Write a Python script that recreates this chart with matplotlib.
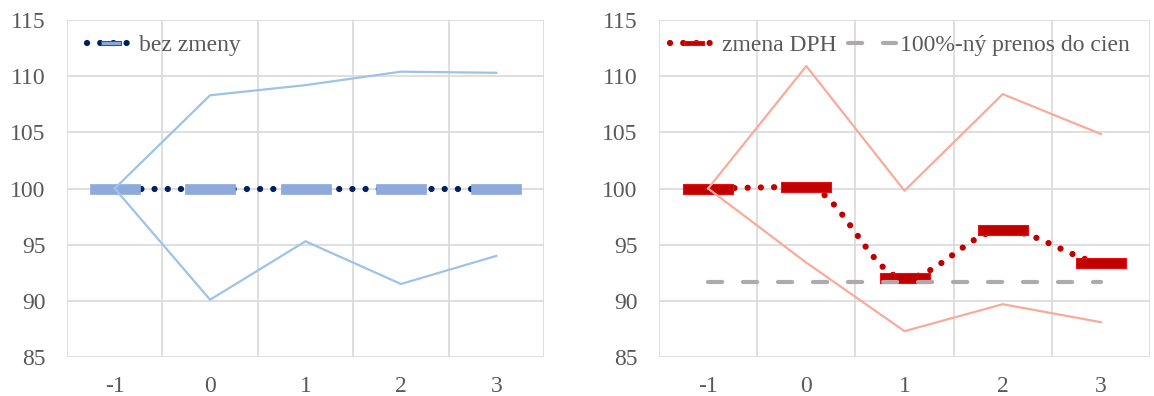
import numpy as np
import matplotlib
matplotlib.use("Agg")
import matplotlib.pyplot as plt
from matplotlib.path import Path
from matplotlib.lines import Line2D
from matplotlib.ticker import FixedLocator

# ---- data ----
periods = [-1, 0, 1, 2, 3]
base_center = [100, 100, 100, 100, 100]
base_upper = [100, 108.3, 109.2, 110.4, 110.3]
base_lower = [100, 90.1, 95.3, 91.5, 94.0]

vat_center = [100, 100.15, 92.0, 96.3, 93.35]
vat_upper = [100, 110.9, 99.8, 108.4, 104.85]
vat_lower = [100, 93.4, 87.3, 89.7, 88.1]
full_passthrough = [91.7, 91.7]
full_pt_x = [-1, 3]

yticks = [85, 90, 95, 100, 105, 110, 115]
label_base = "bez zmeny"
label_vat = "zmena DPH"
label_full = "100%-ný prenos do cien"

FONT = "Liberation Serif"
TXT = "#595959"
GRID = "#d9d9d9"
FS = 17

plt.rcParams["font.family"] = [FONT, "DejaVu Serif", "DejaVu Sans"]


def smooth(x, y, n=40):
    """Bezier smoothing through the points (zero tangent at local extremes)."""
    x = np.asarray(x, float)
    y = np.asarray(y, float)
    m = len(x)
    tang = np.zeros(m)
    for i in range(m):
        if i == 0:
            tang[i] = (y[1] - y[0]) / 2
        elif i == m - 1:
            tang[i] = (y[-1] - y[-2]) / 2
        else:
            d1 = y[i] - y[i - 1]
            d2 = y[i + 1] - y[i]
            tang[i] = 0.0 if d1 * d2 <= 0 else (y[i + 1] - y[i - 1]) / 2
    xs, ys = [], []
    t = np.linspace(0, 1, n)
    for i in range(m - 1):
        h = x[i + 1] - x[i]
        p0 = np.array([x[i], y[i]])
        p3 = np.array([x[i + 1], y[i + 1]])
        c1 = p0 + np.array([h / 3, tang[i] / 3])
        c2 = p3 - np.array([h / 3, tang[i + 1] / 3])
        b = ((1 - t) ** 3)[:, None] * p0 + (3 * (1 - t) ** 2 * t)[:, None] * c1 + \
            (3 * (1 - t) * t ** 2)[:, None] * c2 + (t ** 3)[:, None] * p3
        xs.extend(b[:, 0])
        ys.extend(b[:, 1])
    return np.array(xs), np.array(ys)


rect = Path([(-5, -1), (5, -1), (5, 1), (-5, 1), (-5, -1)],
            [Path.MOVETO, Path.LINETO, Path.LINETO, Path.LINETO, Path.CLOSEPOLY])

fig = plt.figure(figsize=(11.54, 3.96), dpi=100)
ax1 = fig.add_axes([67 / 1154, 1 - 357 / 396, (544 - 67) / 1154, 337 / 396])
ax2 = fig.add_axes([659 / 1154, 1 - 357 / 396, (1150 - 659) / 1154, 337 / 396])

DOT_LW = 4.5
dot_style = (0, (0.01, 2.1))
ms = 50 * 72 / 100  # marker size in points (50 px wide)

for ax in (ax1, ax2):
    ax.set_xlim(-1.5, 3.5)
    ax.set_ylim(85, 115)
    ax.set_yticks(yticks)
    ax.set_xticks(periods)
    ax.set_xticklabels([str(p) for p in periods])
    ax.xaxis.set_minor_locator(FixedLocator(np.arange(-1.5, 3.6, 1)))
    ax.grid(True, which="major", axis="y", color=GRID, lw=1.2)
    ax.grid(True, which="minor", axis="x", color=GRID, lw=1.2)
    ax.grid(False, which="major", axis="x")
    ax.tick_params(which="both", length=0, labelsize=FS, colors=TXT)
    ax.tick_params(axis="x", pad=14)
    ax.tick_params(axis="y", pad=15.5)
    for s in ax.spines.values():
        s.set_visible(False)
    ax.set_axisbelow(True)

# left panel
sx, sy = smooth(periods, base_center)
ax1.plot(sx, sy, color="#002060", lw=DOT_LW, ls=dot_style, dash_capstyle="round", zorder=2)
ax1.plot(periods, base_center, ls="none", marker=rect, ms=ms, mfc="#8eaadc", mec="#8eaadc",
         mew=0.5, zorder=3)
ax1.plot(periods, base_upper, color="#9dc3e6", lw=1.6, zorder=4)
ax1.plot(periods, base_lower, color="#9dc3e6", lw=1.6, zorder=4)

h1 = Line2D([], [], color="#002060", lw=DOT_LW, ls=dot_style, dash_capstyle="round",
            marker=rect, ms=14, mfc="#8eaadc", mec="#2f5597", mew=0.8)
fig.legend([h1], [label_base], loc="center left", bbox_to_anchor=(87 / 1154, 1 - 45 / 396),
           frameon=False, fontsize=FS, labelcolor=TXT, handlelength=2.0, handletextpad=0.2,
           borderpad=0, borderaxespad=0)

# right panel
sx, sy = smooth(periods, vat_center)
ax2.plot(sx, sy, color="#c00000", lw=DOT_LW, ls=dot_style, dash_capstyle="round", zorder=2)
ax2.plot(periods, vat_center, ls="none", marker=rect, ms=ms, mfc="#c00000", mec="#e81010",
         mew=0.8, zorder=3)
ax2.plot(full_pt_x, full_passthrough, color="#aeaaaa", lw=3.0, ls=(0, (3.4, 5.0)),
         dash_capstyle="round", zorder=4)
ax2.plot(periods, vat_upper, color="#f8ab9b", lw=1.6, zorder=4)
ax2.plot(periods, vat_lower, color="#f8ab9b", lw=1.6, zorder=4)

h2 = Line2D([], [], color="#c00000", lw=DOT_LW, ls=dot_style, dash_capstyle="round",
            marker=rect, ms=14, mfc="#c00000", mec="#e81010", mew=0.8)
h3 = Line2D([], [], color="#aeaaaa", lw=3.0, ls=(0, (3.4, 5.0)), dash_capstyle="round")
fig.legend([h2, h3], [label_vat, label_full], loc="center left",
           bbox_to_anchor=(670 / 1154, 1 - 45 / 396), ncol=2, frameon=False, fontsize=FS,
           labelcolor=TXT, handlelength=2.0, handletextpad=0.2, columnspacing=0.5,
           borderpad=0, borderaxespad=0)

fig.savefig("out.png", dpi=100)
